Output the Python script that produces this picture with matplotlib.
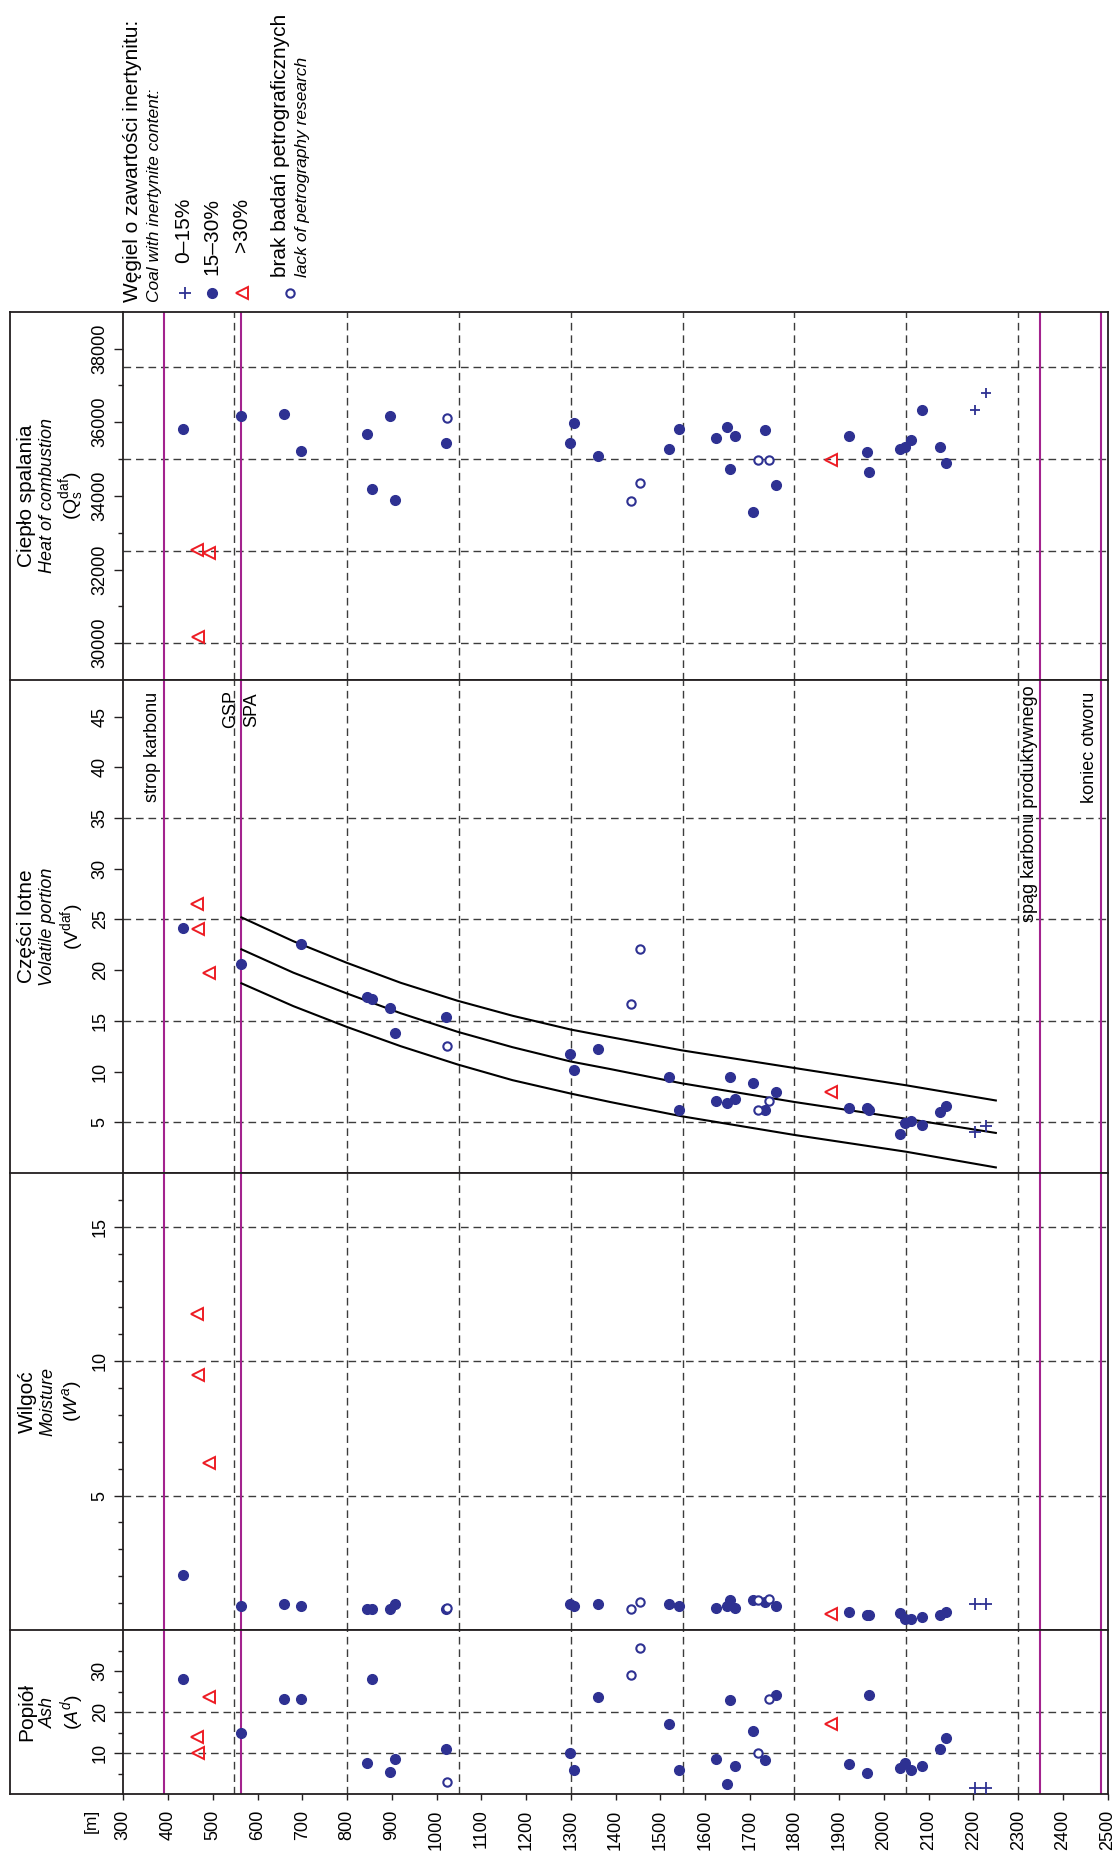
import numpy as np
import matplotlib
matplotlib.use("Agg")
import matplotlib.pyplot as plt
from matplotlib.ticker import FixedLocator, StrMethodFormatter
from matplotlib.transforms import blended_transform_factory

plt.rcParams["font.family"] = ["Liberation Sans", "DejaVu Sans"]
plt.rcParams["mathtext.fontset"] = "custom"
plt.rcParams["mathtext.rm"] = "Liberation Sans"
plt.rcParams["mathtext.it"] = "Liberation Sans:italic"
plt.rcParams["mathtext.bf"] = "Liberation Sans:bold"

# samples with 15-30% inertynite (filled circles)
depth_mid = [433, 563, 660, 697, 844, 856, 896, 908, 1021, 1299, 1307, 1360,
             1520, 1543, 1625, 1649, 1657, 1666, 1707, 1735, 1759, 1922,
             1963, 1967, 2036, 2048, 2060, 2085, 2126, 2138]
ash_mid = [28.1, 14.9, 23.3, 23.3, 7.7, 28.1, 5.5, 8.7, 11.0, 10.0, 6.0, 23.7,
           17.1, 6.0, 8.7, 2.5, 22.9, 6.9, 15.4, 8.3, 24.2, 7.3,
           5.2, 24.2, 6.5, 7.7, 6.0, 6.9, 11.0, 13.6]
moist_mid = [2.04, 0.89, 0.95, 0.89, 0.77, 0.77, 0.77, 0.95, 0.77, 0.95, 0.89, 0.95,
             0.95, 0.89, 0.83, 0.89, 1.10, 0.83, 1.10, 1.04, 0.89, 0.68,
             0.56, 0.56, 0.62, 0.42, 0.42, 0.48, 0.56, 0.68]
vol_mid = [24.2, 20.6, np.nan, 22.55, 17.37, 17.15, 16.29, 13.76, 15.37, 11.78, 10.2, 12.18,
           9.48, 6.19, 7.11, 6.91, 9.48, 7.31, 8.92, 6.22, 7.97, 6.42,
           6.42, 6.22, 3.89, 4.94, 5.13, 4.78, 6.02, 6.58]
heat_mid = [35819, 36163, 36217, 35223, 35667, 34184, 36163, 33886, 35423, 35423, 35965, 35079,
            35277, 35819, 35575, 35873, 34734, 35621, 33552, 35775, 34292, 35621,
            35179, 34637, 35277, 35331, 35521, 36318, 35331, 34889]

# samples with 0-15% inertynite (plus)
depth_low = [2203, 2227]
ash_low = [1.65, 1.65]
moist_low = [0.95, 0.95]
vol_low = [4.05, 4.64]
heat_low = [36318, 36806]

# samples with >30% inertynite (triangles)
depth_high = [465, 467, 492, 1882]
ash_high = [14.0, 10.0, 23.7, 17.1]
moist_high = [11.76, 9.47, 6.22, 0.6]
vol_high = [26.56, 24.03, 19.68, 7.97]
heat_high = [32522, 30179, 32457, 34979]

# samples without petrography research (open circles)
depth_none = [1023, 1434, 1454, 1718, 1743]
ash_none = [2.9, 29.0, 35.7, 10.0, 23.3]
moist_none = [0.83, 0.77, 1.04, 1.10, 1.17]
vol_none = [12.5, 16.65, 22.05, 6.22, 7.11]
heat_none = [36117, 33850, 34347, 34979, 34979]

# trend curves in the volatile panel
curve_depth = [564, 680, 799, 920, 1047, 1170, 1299, 1388, 1547, 1800, 2049, 2250]
curve_upper = [25.2, 22.85, 20.73, 18.75, 16.98, 15.5, 14.15, 13.4, 12.1, 10.35, 8.65, 7.15]
curve_middle = [22.05, 19.75, 17.71, 15.75, 13.92, 12.4, 11.0, 10.25, 8.85, 7.0, 5.35, 3.95]
curve_lower = [18.7, 16.45, 14.41, 12.5, 10.7, 9.15, 7.84, 7.0, 5.6, 3.75, 2.1, 0.55]

# boundaries
grid_depths = [547, 800, 1050, 1300, 1550, 1800, 2050, 2300]
boundary_depths = [392, 563, 2349, 2484]
depth_ticks = list(range(300, 2501, 100))

BLUE = "#2e3192"
RED = "#ed1c24"
MAGENTA = "#a3238e"
GRIDC = "#3c3c3c"
FRAME = "#231f20"

W, H = 1117, 1852
XL, X0, X1 = 10, 123.3, 1107.7
fig = plt.figure(figsize=(W / 100, H / 100), dpi=100)

ov = fig.add_axes([0, 0, 1, 1])
ov.set_xlim(0, W)
ov.set_ylim(H, 0)
ov.axis("off")


def panel(top, bot):
    ax = fig.add_axes([X0 / W, 1 - bot / H, (X1 - X0) / W, (bot - top) / H])
    ax.set_xlim(300, 2500)
    for s in ax.spines.values():
        s.set_color(FRAME)
        s.set_linewidth(1.3)
    ax.tick_params(axis="x", bottom=False, labelbottom=False)
    ax.tick_params(axis="y", which="major", direction="out", length=6.5, width=1,
                   labelsize=13, labelrotation=90, pad=4, color=FRAME)
    ax.tick_params(axis="y", which="minor", direction="out", length=3.5, width=1, color=FRAME)
    for d in grid_depths:
        ax.axvline(d, color=GRIDC, lw=1, ls=(0, (5.5, 3.5)), zorder=1)
    for d in boundary_depths:
        ax.axvline(d, color=MAGENTA, lw=1.5, zorder=2)
    return ax


def markers(ax, low, mid, high, none, plus_size=9):
    ax.plot(depth_mid, mid, ls="none", marker="o", ms=7, mfc=BLUE, mec=BLUE, zorder=4)
    ax.plot(depth_none, none, ls="none", marker="o", ms=6, mfc="white", mec=BLUE, mew=1.5, zorder=4)
    ax.plot(depth_high, high, ls="none", marker="<", ms=9, mfc="none", mec=RED, mew=1.4, zorder=4)
    ax.plot(depth_low, low, ls="none", marker="+", ms=plus_size, mec=BLUE, mew=1.3, zorder=4)


def ygrid(ax, vals):
    for v in vals:
        ax.axhline(v, color=GRIDC, lw=1, ls=(0, (5.5, 3.5)), zorder=1)


def centre_labels(ax):
    for lbl in ax.get_yticklabels():
        lbl.set_va("center")


panels = [(311.7, 680), (680, 1173), (1173, 1630), (1630, 1794.3)]

# heat of combustion
ax_h = panel(*panels[0])
ax_h.set_ylim(29000, 39000)
ax_h.yaxis.set_major_locator(FixedLocator(range(30000, 38001, 2000)))
ax_h.yaxis.set_minor_locator(FixedLocator(range(31000, 37001, 2000)))
ax_h.yaxis.set_major_formatter(StrMethodFormatter("{x:.0f}"))
ygrid(ax_h, [30000, 32500, 35000, 37500])
markers(ax_h, heat_low, heat_mid, heat_high, heat_none, plus_size=6.5)
centre_labels(ax_h)

# volatile portion
ax_v = panel(*panels[1])
ax_v.set_ylim(0, 48.6)
ax_v.yaxis.set_major_locator(FixedLocator(range(5, 46, 5)))
ygrid(ax_v, [5, 15, 25, 35])
for c in (curve_upper, curve_middle, curve_lower):
    ax_v.plot(curve_depth, c, color="black", lw=1.5, zorder=3)
markers(ax_v, vol_low, vol_mid, vol_high, vol_none)
centre_labels(ax_v)
tr = blended_transform_factory(ax_v.transData, ax_v.transAxes)
for d, yf, s in [(366, 0.976, "strop karbonu"), (539, 0.98, "GSP"), (588, 0.974, "SPA"),
                 (2326, 0.99, "spąg karbonu produktywnego"), (2460, 0.976, "koniec otworu")]:
    ax_v.text(d, yf, s, transform=tr, rotation=90, ha="center", va="top", fontsize=13, zorder=5)

# moisture
ax_m = panel(*panels[2])
ax_m.set_ylim(0, 17)
ax_m.yaxis.set_major_locator(FixedLocator([5, 10, 15]))
ax_m.yaxis.set_minor_locator(FixedLocator([1, 2, 3, 4, 6, 7, 8, 9, 11, 12, 13, 14, 16]))
ygrid(ax_m, [5, 10, 15])
markers(ax_m, moist_low, moist_mid, moist_high, moist_none)
centre_labels(ax_m)

# ash
ax_a = panel(*panels[3])
ax_a.set_ylim(0, 40)
ax_a.yaxis.set_major_locator(FixedLocator([10, 20, 30]))
ax_a.yaxis.set_minor_locator(FixedLocator([5, 15, 25, 35]))
ygrid(ax_a, [10, 20])
markers(ax_a, ash_low, ash_mid, ash_high, ash_none)
centre_labels(ax_a)
ax_a.set_xticks(depth_ticks)
ax_a.tick_params(axis="x", bottom=True, labelbottom=True, direction="out", length=4,
                 width=1, labelsize=13, labelrotation=90, pad=7, color=FRAME)

# left label boxes
ov.plot([XL, XL], [panels[0][0], panels[3][1]], color=FRAME, lw=1.3)
for y in [panels[0][0], 680, 1173, 1630, panels[3][1]]:
    ov.plot([XL, X0], [y, y], color=FRAME, lw=1.3)

titles = [("Ciepło spalania", "Heat of combustion", r"($\mathregular{Q_s^{daf}}$)"),
          ("Części lotne", "Volatile portion", r"($\mathregular{V^{daf}}$)"),
          ("Wilgoć", "Moisture", r"($\mathit{W^a}$)"),
          ("Popiół", "Ash", r"($\mathit{A^d}$)")]
for (top, bot), (t1, t2, t3) in zip(panels, titles):
    yc = (top + bot) / 2
    ov.text(27, yc, t1, rotation=90, ha="center", va="center", fontsize=15)
    ov.text(48, yc, t2, rotation=90, ha="center", va="center", fontsize=13, style="italic")
    ov.text(72, yc, t3, rotation=90, ha="center", va="center", fontsize=14)

ov.text(91, 1821, "[m]", rotation=90, ha="center", va="center", fontsize=12.5)

# legend
ov.text(132, 302, "Węgiel o zawartości inertynitu:", rotation=90, ha="center", va="bottom", fontsize=15)
ov.text(155, 302, "Coal with inertynite content:", rotation=90, ha="center", va="bottom",
        fontsize=12.5, style="italic")
ov.plot([185], [293], ls="none", marker="+", ms=9, mec=BLUE, mew=1.3)
ov.plot([212], [293], ls="none", marker="o", ms=7, mfc=BLUE, mec=BLUE)
ov.plot([242], [293], ls="none", marker="<", ms=9, mfc="none", mec=RED, mew=1.4)
ov.plot([290], [293], ls="none", marker="o", ms=6, mfc="white", mec=BLUE, mew=1.5)
for x, s in [(184, "0–15%"), (212, "15–30%"), (242, ">30%")]:
    ov.text(x, 198, s, rotation=90, ha="center", va="top", fontsize=15)
ov.text(280, 277, "brak badań petrograficznych", rotation=90, ha="center", va="bottom", fontsize=15)
ov.text(302, 277, "lack of petrography research", rotation=90, ha="center", va="bottom",
        fontsize=12.5, style="italic")

fig.savefig("out.png", dpi=100)
